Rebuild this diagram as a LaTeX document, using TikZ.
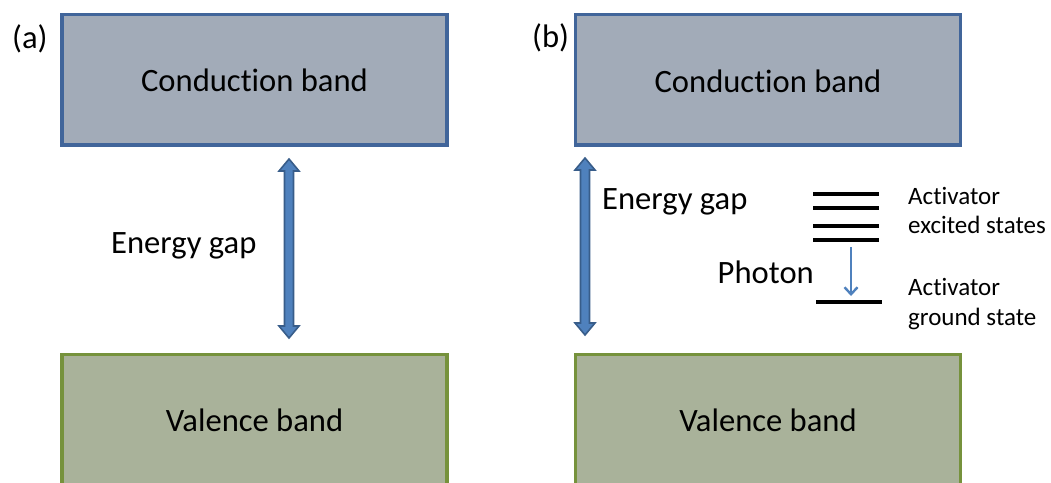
\documentclass[tikz,border=0pt]{standalone}
\usepackage{fontspec}
\setmainfont{Carlito}[Ligatures={NoCommon,NoDiscretionary,NoRare}]
\usetikzlibrary{arrows.meta,calc}
\definecolor{cbfill}{HTML}{A2ABB8}
\definecolor{cbdraw}{HTML}{41659A}
\definecolor{vbfill}{HTML}{A9B29A}
\definecolor{vbdraw}{HTML}{76923C}
\definecolor{arrfill}{HTML}{4F81BD}
\definecolor{arrdraw}{HTML}{385D8A}
\newcommand\gaparrow[2]{%
  \filldraw[gapstyle]
  (#1) -- ++(10,12) -- ++(-5.5,0) -- ($(#2)+(4.5,-12)$) -- ++(5.5,0) -- (#2)
  -- ++(-10,-12) -- ++(5.5,0) -- ($(#1)+(-4.5,12)$) -- ++(-5.5,0) -- cycle;}
\newcommand\brk{\kern0pt\relax}
\begin{document}
\begin{tikzpicture}[x=1pt,y=-1pt,
  bigtext/.style={font=\fontsize{32.6}{38}\selectfont, inner sep=0pt},
  smalltext/.style={font=\fontsize{25}{29.5}\selectfont, inner sep=0pt, align=left},
  condband/.style={draw=cbdraw, fill=cbfill, line width=3.4pt, inner sep=0pt,
    minimum width=385pt, minimum height=130.5pt},
  valband/.style={draw=vbdraw, fill=vbfill, line width=3.4pt, inner sep=0pt,
    minimum width=385pt, minimum height=165.5pt},
  gapstyle/.style={fill=arrfill, draw=arrdraw, line width=1.6pt, line join=miter},
  level/.style={line width=3.2pt},
  photon/.style={draw=arrfill, line width=2.4pt, -{Straight Barb[length=7pt,width=13pt,line width=2.4pt]}}]
\useasboundingbox (0,0) rectangle (1051,482);
\clip (0,0) rectangle (1051,482);
\fill[white] (0,0) rectangle (1051,482);

% ---- panel (a)
\node[bigtext, anchor=base west] (labA) at (12,48) {(a)};
\node[condband] (cbA) at (254.5,79.75) {};
\node[bigtext, anchor=base] (cbAt) at (254.5,91) {Conduc\brk tion band};
\node[valband] (vbA) at (254.5,437.25) {};
\node[bigtext, anchor=base] (vbAt) at (254.5,431) {Valence band};
\coordinate (gAt) at (289,159);
\coordinate (gAb) at (289,338);
\gaparrow{gAt}{gAb}
\node[bigtext, anchor=base west] (egA) at (111,253) {Energy gap};

% ---- panel (b)
\node[bigtext, anchor=base west] (labB) at (532,47) {(b)};
\node[condband] (cbB) at (768,79.75) {};
\node[bigtext, anchor=base] (cbBt) at (768,92) {Conduc\brk tion band};
\node[valband] (vbB) at (768,437.25) {};
\node[bigtext, anchor=base] (vbBt) at (768,431) {Valence band};
\coordinate (gBt) at (585,158);
\coordinate (gBb) at (585,335);
\gaparrow{gBt}{gBb}
\node[bigtext, anchor=base west] (egB) at (602,209) {Energy gap};

% activator levels
\coordinate (e1l) at (813,194);   \coordinate (e1r) at (879,194);
\coordinate (e2l) at (813,208);   \coordinate (e2r) at (879,208);
\coordinate (e3l) at (813,226);   \coordinate (e3r) at (879,226);
\coordinate (e4l) at (813,240);   \coordinate (e4r) at (879,240);
\coordinate (g1l) at (816,302);   \coordinate (g1r) at (882,302);
\draw[level] (e1l) -- (e1r);
\draw[level] (e2l) -- (e2r);
\draw[level] (e3l) -- (e3r);
\draw[level] (e4l) -- (e4r);
\draw[level] (g1l) -- (g1r);
\coordinate (ph1) at (851,247);
\coordinate (ph2) at (851,296);
\draw[photon] (ph1) -- (ph2);
\node[bigtext, anchor=base east] (phot) at (814,283) {Photon};
\node[smalltext, anchor=base west] (actEx1) at (908,204) {Ac\brk tivator};
\node[smalltext, anchor=base west] (actEx2) at (908,233) {excited states};
\node[smalltext, anchor=base west] (actGr1) at (908,295) {Ac\brk tivator};
\node[smalltext, anchor=base west] (actGr2) at (908,325) {ground state};
\end{tikzpicture}
\end{document}
